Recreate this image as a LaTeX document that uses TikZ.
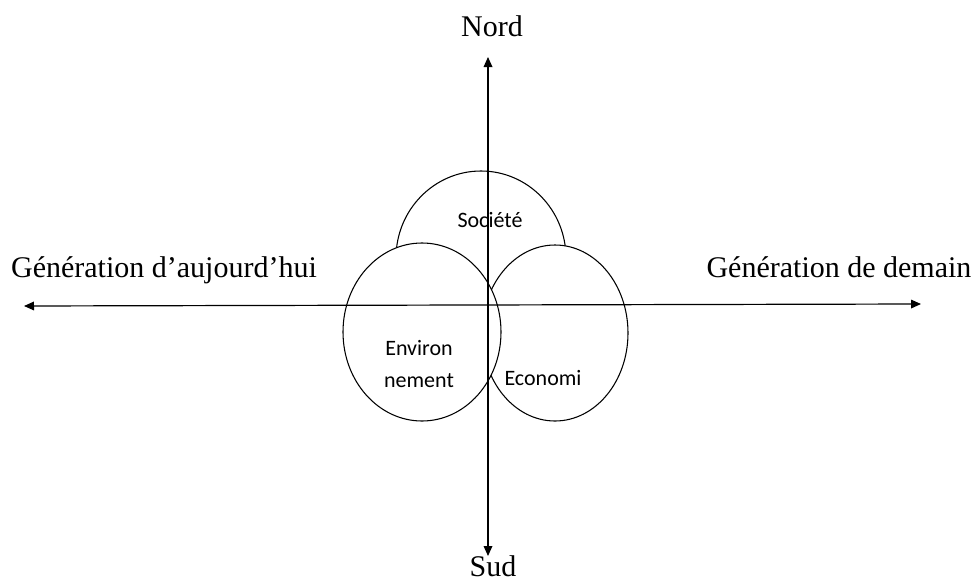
\documentclass[tikz,border=0pt]{standalone}
\usepackage{fontspec}
\setmainfont{Liberation Serif}
\newfontfamily\spherefont{Carlito}
\usetikzlibrary{arrows.meta}

\begin{document}
\begin{tikzpicture}[x=0.75pt,y=-0.75pt]
    \tikzstyle{every node}+=[inner sep=0pt]
    \tikzstyle{pole}=[anchor=base, font=\fontsize{22.5}{27}\selectfont]
    \tikzstyle{sphere}=[black, line width=0.8pt, fill=white]
    \tikzstyle{spherelabel}=[font=\spherefont\fontsize{16.5}{24}\selectfont, align=center]
    \tikzstyle{axis}=[black, line width=0.9pt, {Triangle[length=7.5pt,width=6.5pt]}-{Triangle[length=7.5pt,width=6.5pt]}]
    \useasboundingbox (0,0) rectangle (975,582);
    % axis ends
    \coordinate (north) at (488,57);
    \coordinate (south) at (488,556);
    \coordinate (west) at (24,306);
    \coordinate (east) at (921,304);
    % the three spheres, back to front
    \draw [sphere] (481,258) ellipse (85 and 87);
    \draw [sphere] (555,333) ellipse (73 and 88);
    \draw [sphere] (422,332) ellipse (79 and 89);
    \node [spherelabel, anchor=base] (societe) at (490,227) {Société};
    \node [spherelabel] (environnement) at (419,364) {Environ\\nement};
    \node [spherelabel, anchor=base] (economi) at (543,385) {Economi};
    % axes
    \draw [axis] (south) -- (north);
    \draw [axis] (west) -- (east);
    \node [pole] (nord) at (492,36) {Nord};
    \node [pole] (sud) at (493,576) {Sud};
    \node [pole] (aujourdhui) at (164,277) {Génération d’aujourd’hui};
    \node [pole] (demain) at (839,277) {Génération de demain};
\end{tikzpicture}
\end{document}
